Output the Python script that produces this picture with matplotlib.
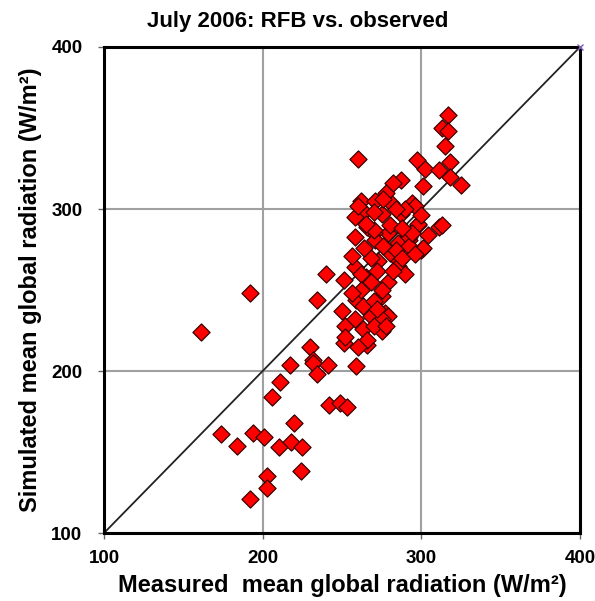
import matplotlib
matplotlib.use("Agg")
import matplotlib.pyplot as plt

plt.rcParams['font.family'] = ['Liberation Sans', 'DejaVu Sans']

measured = [
    161, 192, 234, 240, 230, 232, 251, 266, 259, 217, 232, 241, 234, 211, 206,
    242, 249, 253, 220, 174, 184, 194, 201, 210, 218, 225, 224, 203, 203, 192,
    250, 268, 277, 252, 263, 275, 252, 266, 260, 259, 275, 279, 275,
    251, 258, 265, 273, 279, 280, 279, 270, 289, 300, 298, 311, 256, 286, 292,
    285, 271, 258, 266, 270, 292, 301, 292, 285, 275, 262, 268, 290, 284, 276,
    272, 264,
    317, 313, 317, 315, 260, 297, 302, 311, 318, 318, 325, 287, 282, 301, 262,
    281, 294, 296, 264, 275, 287, 265, 298, 313, 258, 260, 278, 290, 271,
    262, 268, 256, 263, 270, 272, 258, 270, 278, 282, 288, 294, 296, 280, 284,
    276, 270, 300, 304, 288,
]
simulated = [
    224, 248, 244, 260, 215, 207, 217, 216, 203, 204, 205, 204, 198, 193, 184,
    179, 180, 178, 168, 161, 154, 162, 159, 153, 156, 153, 138, 135, 128, 121,
    237, 234, 236, 228, 226, 225, 221, 219, 215, 244, 246, 234, 232,
    256, 264, 258, 268, 255, 273, 285, 285, 281, 275, 290, 289, 271, 268, 281,
    279, 281, 283, 289, 287, 283, 276, 277, 265, 250, 260, 270, 260, 275, 277,
    262, 276,
    358, 350, 348, 339, 331, 330, 325, 324, 329, 320, 315, 318, 316, 314, 305,
    304, 304, 302, 298, 297, 297, 291, 291, 290, 295, 302, 310, 300, 305,
    250, 255, 248, 240, 243, 238, 232, 228, 228, 262, 270, 285, 272, 290, 300,
    306, 298, 296, 284, 288,
]

ticks = [100, 200, 300, 400]
one_to_one = [100, 400]

fig = plt.figure(figsize=(5.95, 6.01), dpi=100)
ax = fig.add_axes([0.1748, 0.1131, 0.8000, 0.8087])

ax.set_xlim(100, 400)
ax.set_ylim(100, 400)
ax.set_xticks(ticks)
ax.set_yticks(ticks)
ax.grid(True, color='#a0a0a0', linewidth=1.5, zorder=0)

ax.plot(one_to_one, one_to_one, color='#222222', linewidth=1.3, zorder=2)
ax.plot([400], [400], marker='x', color='#8060b0', markersize=5, clip_on=False, zorder=5)

ax.scatter(measured, simulated, marker='D', s=76, facecolor='#ff0000',
           edgecolor='#3a0000', linewidth=0.9, zorder=3)

for sp in ax.spines.values():
    sp.set_linewidth(2.2)
    sp.set_color('black')

ax.tick_params(direction='out', length=4, width=1, color='#666666', labelsize=13.5)
ax.tick_params(axis='y', pad=11.5)
ax.tick_params(axis='x', pad=8)
for lab in ax.get_xticklabels() + ax.get_yticklabels():
    lab.set_fontweight('bold')

fig.text(0.5, 1 - 21 / 601, 'July 2006: RFB vs. observed', fontsize=16,
         fontweight='bold', ha='center', va='center')
ax.set_xlabel('Measured  mean global radiation (W/m\u00b2)', fontsize=17,
              fontweight='bold', labelpad=5)
ax.set_ylabel('Simulated mean global radiation (W/m\u00b2)', fontsize=17,
              fontweight='bold', labelpad=7)

fig.savefig('out.png', dpi=100)
